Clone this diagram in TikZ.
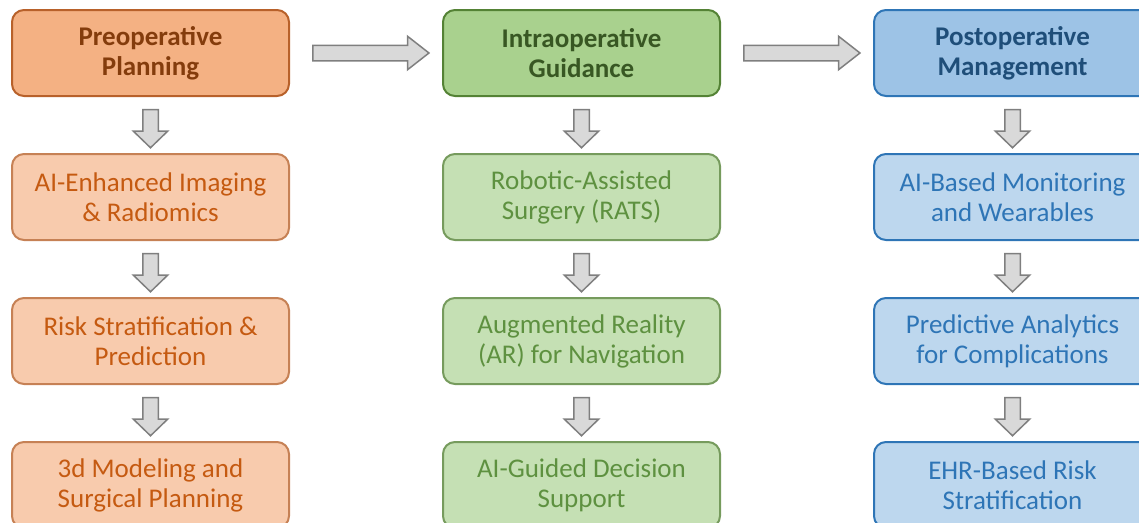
\documentclass[tikz,border=0pt]{standalone}
\usepackage{fontspec}
\setmainfont{Carlito}
\usepackage{xcolor}
\usetikzlibrary{
  positioning,
  shapes.arrows
}

\definecolor{preop-dark}{HTML}{F4B183}
\definecolor{preop-light}{HTML}{F8CBAD}
\definecolor{preop-line}{HTML}{B8612A}
\definecolor{preop-head-text}{HTML}{843C0C}
\definecolor{preop-text}{HTML}{C55A11}
\definecolor{intraop-dark}{HTML}{A9D18E}
\definecolor{intraop-light}{HTML}{C5E0B4}
\definecolor{intraop-line}{HTML}{548235}
\definecolor{intraop-head-text}{HTML}{385723}
\definecolor{intraop-text}{HTML}{5E9140}
\definecolor{postop-dark}{HTML}{9DC3E6}
\definecolor{postop-light}{HTML}{BDD7EE}
\definecolor{postop-line}{HTML}{2E75B6}
\definecolor{postop-head-text}{HTML}{1F4E79}
\definecolor{postop-text}{HTML}{2E75B6}
\definecolor{arrow-fill}{HTML}{D9D9D9}
\definecolor{arrow-line}{HTML}{7F7F7F}

\begin{document}
\begin{tikzpicture}[
  node distance=56pt and 152pt,
  stage/.style={
    rectangle,
    rounded corners=12pt,
    line width=2pt,
    minimum width=277pt,
    minimum height=86pt,
    align=center,
    font=\fontsize{27}{30}\selectfont
  },
  head/.style={stage, font=\fontsize{27}{30}\selectfont\bfseries},
  preop-head/.style={head, draw=preop-line, fill=preop-dark, text=preop-head-text},
  preop-step/.style={stage, draw=preop-line!80, fill=preop-light, text=preop-text},
  intraop-head/.style={head, draw=intraop-line, fill=intraop-dark, text=intraop-head-text},
  intraop-step/.style={stage, draw=intraop-line!80, fill=intraop-light, text=intraop-text},
  postop-head/.style={head, draw=postop-line, fill=postop-dark, text=postop-head-text},
  postop-step/.style={stage, draw=postop-line, fill=postop-light, text=postop-text},
  block-arrow/.style={
    single arrow,
    draw=arrow-line,
    fill=arrow-fill,
    line width=1.5pt,
    inner sep=7pt,
    minimum width=0pt
  },
  across/.style={block-arrow, minimum height=116pt,
    single arrow head extend=9pt, single arrow tip angle=76},
  down/.style={block-arrow, minimum height=38pt,
    single arrow head extend=9.5pt, single arrow tip angle=92, shape border rotate=270}
]
\useasboundingbox (0,0) rectangle (1139pt,-522pt);

% phase headers
\node [preop-head] (preop) at (150.5pt,-53pt) {Preoperative\\Planning};
\node [intraop-head, right=of preop] (intraop) {Intraoperative\\Guidance};
\node [postop-head, right=of intraop] (postop) {Postoperative\\Management};

% preoperative column
\node [preop-step, below=of preop] (preop-imaging) {AI-Enhanced Imaging\\\& Radiomics};
\node [preop-step, below=of preop-imaging] (preop-risk) {Risk Stratification \&\\Prediction};
\node [preop-step, below=of preop-risk] (preop-modeling) {3d Modeling and\\Surgical Planning};

% intraoperative column
\node [intraop-step, below=of intraop] (intraop-rats) {Robotic-Assisted\\Surgery (RATS)};
\node [intraop-step, below=of intraop-rats] (intraop-ar) {Augmented Reality\\(AR) for Navigation};
\node [intraop-step, below=of intraop-ar] (intraop-decision) {AI-Guided Decision\\Support};

% postoperative column
\node [postop-step, below=of postop] (postop-monitoring) {AI-Based Monitoring\\and Wearables};
\node [postop-step, below=of postop-monitoring] (postop-analytics) {Predictive Analytics\\for Complications};
\node [postop-step, below=of postop-analytics] (postop-ehr) {EHR-Based Risk\\Stratification};

% block arrows
\path (preop) -- node [across] {} (intraop);
\path (intraop) -- node [across] {} (postop);
\path (preop) -- node [down] {} (preop-imaging);
\path (preop-imaging) -- node [down] {} (preop-risk);
\path (preop-risk) -- node [down] {} (preop-modeling);
\path (intraop) -- node [down] {} (intraop-rats);
\path (intraop-rats) -- node [down] {} (intraop-ar);
\path (intraop-ar) -- node [down] {} (intraop-decision);
\path (postop) -- node [down] {} (postop-monitoring);
\path (postop-monitoring) -- node [down] {} (postop-analytics);
\path (postop-analytics) -- node [down] {} (postop-ehr);
\end{tikzpicture}
\end{document}
